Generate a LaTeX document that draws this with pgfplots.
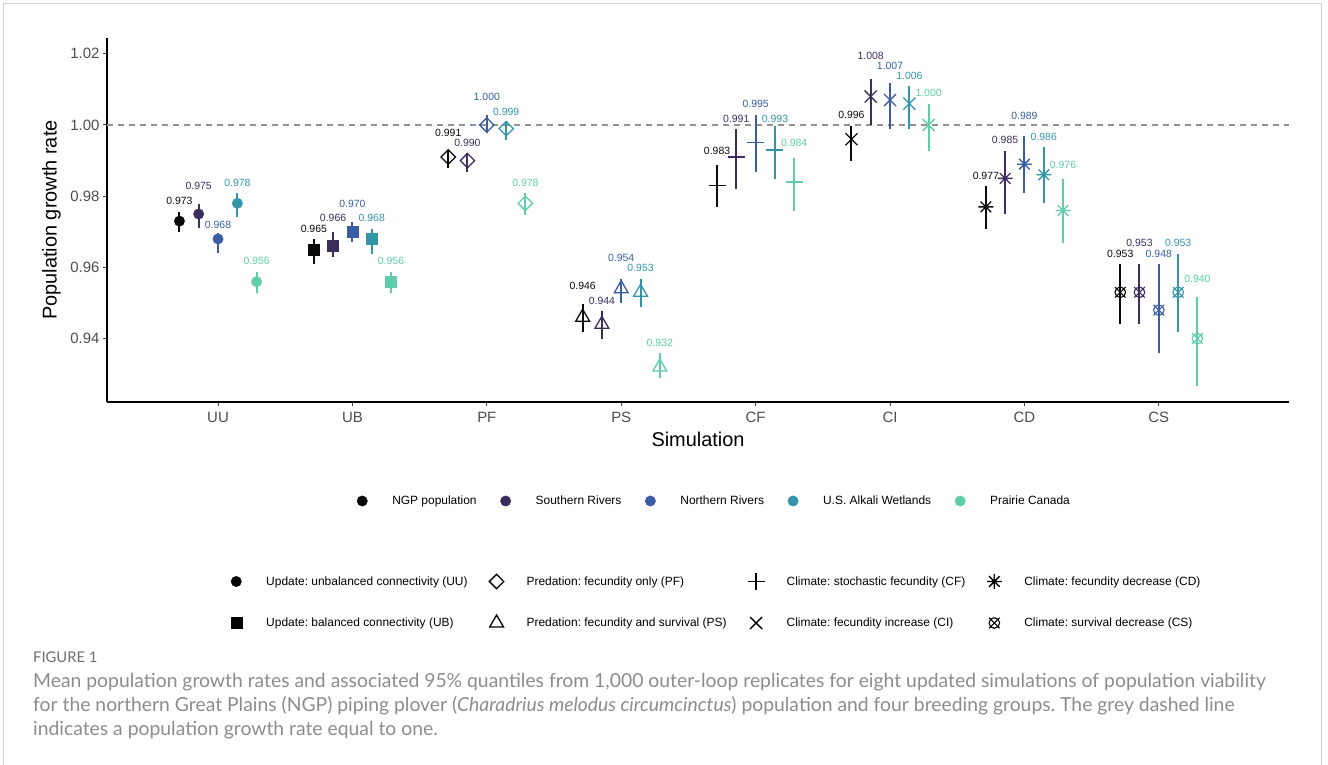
\documentclass[border=0pt]{standalone}
\usepackage{pgfplots}
\pgfplotsset{compat=1.18}
\usepackage{pgfplotstable}
\usepackage{fontspec}
\setmainfont{Liberation Sans}
\newfontfamily\capfont{Lato}
\frenchspacing

\definecolor{cNGP}{HTML}{0A0A0A}
\definecolor{cSR}{HTML}{3B2E5D}
\definecolor{cNR}{HTML}{3A5DA6}
\definecolor{cAW}{HTML}{3396A8}
\definecolor{cPC}{HTML}{5ECDAA}
\definecolor{tickgrey}{HTML}{4D4D4D}
\definecolor{capgrey}{HTML}{8C8C8C}
\definecolor{figgrey}{HTML}{6E6E6E}
\definecolor{framegrey}{HTML}{D0D0D0}

\pgfdeclareplotmark{ggdiamond}{%
  \pgfpathmoveto{\pgfqpoint{0pt}{\pgfplotmarksize}}%
  \pgfpathlineto{\pgfqpoint{\pgfplotmarksize}{0pt}}%
  \pgfpathlineto{\pgfqpoint{0pt}{-\pgfplotmarksize}}%
  \pgfpathlineto{\pgfqpoint{-\pgfplotmarksize}{0pt}}%
  \pgfpathclose\pgfusepathqstroke}
\pgfdeclareplotmark{ggast}{%
  \pgfpathmoveto{\pgfqpoint{-\pgfplotmarksize}{0pt}}\pgfpathlineto{\pgfqpoint{\pgfplotmarksize}{0pt}}%
  \pgfpathmoveto{\pgfqpoint{0pt}{-\pgfplotmarksize}}\pgfpathlineto{\pgfqpoint{0pt}{\pgfplotmarksize}}%
  \pgfpathmoveto{\pgfqpoint{-.707\pgfplotmarksize}{-.707\pgfplotmarksize}}\pgfpathlineto{\pgfqpoint{.707\pgfplotmarksize}{.707\pgfplotmarksize}}%
  \pgfpathmoveto{\pgfqpoint{-.707\pgfplotmarksize}{.707\pgfplotmarksize}}\pgfpathlineto{\pgfqpoint{.707\pgfplotmarksize}{-.707\pgfplotmarksize}}%
  \pgfusepathqstroke}
\pgfdeclareplotmark{ggcircx}{%
  \pgfpathcircle{\pgfpointorigin}{\pgfplotmarksize}%
  \pgfpathmoveto{\pgfqpoint{-\pgfplotmarksize}{-\pgfplotmarksize}}\pgfpathlineto{\pgfqpoint{\pgfplotmarksize}{\pgfplotmarksize}}%
  \pgfpathmoveto{\pgfqpoint{-\pgfplotmarksize}{\pgfplotmarksize}}\pgfpathlineto{\pgfqpoint{\pgfplotmarksize}{-\pgfplotmarksize}}%
  \pgfusepathqstroke}

\pgfplotsset{
  /pgf/number format/assume math mode=true,
  mUU/.style={mark=*, mark size=5.2bp},
  mUB/.style={mark=square*, mark size=5.5bp},
  mPF/.style={mark=ggdiamond, mark size=7.2bp, mark options={line width=1.3bp}},
  mPS/.style={mark=triangle, mark size=8bp, mark options={line width=1.3bp}},
  mCF/.style={mark=+, mark size=8.5bp, mark options={line width=1.3bp}},
  mCI/.style={mark=x, mark size=8.5bp, mark options={line width=1.3bp}},
  mCD/.style={mark=ggast, mark size=7.5bp, mark options={line width=1.3bp}},
  mCS/.style={mark=ggcircx, mark size=5.3bp, mark options={line width=1.1bp}},
  myleg/.style={legend image code/.code={\path[draw=none, fill=none] (-8bp,-6bp) rectangle (8bp,6bp); \draw[##1] plot coordinates {(0bp,0bp)};}},
}

% columns: simulation index, mean, lower, upper 95% quantile, label height
\pgfplotstableread{
x y lo hi ly
1 0.973 0.9700 0.9756 0.9787
2 0.965 0.9609 0.9679 0.9707
3 0.991 0.9878 0.9930 0.9978
4 0.946 0.9419 0.9497 0.9548
5 0.983 0.9769 0.9888 0.9928
6 0.996 0.9899 0.9997 1.0028
7 0.977 0.9709 0.9829 0.9858
8 0.953 0.9440 0.9609 0.9638
}\ngp
\pgfplotstableread{
x y lo hi ly
1 0.975 0.9710 0.9778 0.9829
2 0.966 0.9628 0.9699 0.9738
3 0.990 0.9869 0.9920 0.9949
4 0.944 0.9398 0.9478 0.9507
5 0.991 0.9819 0.9988 1.0017
6 1.008 1.0000 1.0130 1.0194
7 0.985 0.9749 0.9928 0.9958
8 0.953 0.9440 0.9609 0.9668
}\sr
\pgfplotstableread{
x y lo hi ly
1 0.968 0.9640 0.9698 0.9719
2 0.970 0.9670 0.9728 0.9778
3 1.000 0.9978 1.0028 1.0078
4 0.954 0.9501 0.9567 0.9628
5 0.995 0.9869 1.0028 1.0058
6 1.007 0.9989 1.0117 1.0166
7 0.989 0.9810 0.9969 1.0025
8 0.948 0.9359 0.9609 0.9638
}\nr
\pgfplotstableread{
x y lo hi ly
1 0.978 0.9741 0.9808 0.9836
2 0.968 0.9638 0.9708 0.9738
3 0.999 0.9958 1.0009 1.0037
4 0.953 0.9488 0.9567 0.9598
5 0.993 0.9848 0.9997 1.0017
6 1.006 0.9989 1.0110 1.0138
7 0.986 0.9780 0.9939 0.9967
8 0.953 0.9419 0.9638 0.9668
}\aw
\pgfplotstableread{
x y lo hi ly
1 0.956 0.9529 0.9588 0.9619
2 0.956 0.9529 0.9588 0.9619
3 0.978 0.9747 0.9808 0.9838
4 0.932 0.9290 0.9359 0.9387
5 0.984 0.9758 0.9908 0.9949
6 1.000 0.9928 1.0059 1.0089
7 0.976 0.9669 0.9847 0.9888
8 0.940 0.9268 0.9518 0.9567
}\pc

\newcommand{\grp}[3]{%
  \addplot[draw=none, mark=none, forget plot,
    error bars/.cd, y dir=both, y explicit, error mark=none,
    error bar style={line width=2bp, draw=#2}]
    table[x expr=\thisrow{x}+#3, y=y,
      y error plus expr=\thisrow{hi}-\thisrow{y},
      y error minus expr=\thisrow{y}-\thisrow{lo}] {#1};
  \addplot[only marks, forget plot, color=#2, mUU, skip coords between index={1}{8}] table[x expr=\thisrow{x}+#3, y=y] {#1};
  \addplot[only marks, forget plot, color=#2, mUB, skip coords between index={0}{1}, skip coords between index={2}{8}] table[x expr=\thisrow{x}+#3, y=y] {#1};
  \addplot[only marks, forget plot, color=#2, mPF, skip coords between index={0}{2}, skip coords between index={3}{8}] table[x expr=\thisrow{x}+#3, y=y] {#1};
  \addplot[only marks, forget plot, color=#2, mPS, skip coords between index={0}{3}, skip coords between index={4}{8}] table[x expr=\thisrow{x}+#3, y=y] {#1};
  \addplot[only marks, forget plot, color=#2, mCF, skip coords between index={0}{4}, skip coords between index={5}{8}] table[x expr=\thisrow{x}+#3, y=y] {#1};
  \addplot[only marks, forget plot, color=#2, mCI, skip coords between index={0}{5}, skip coords between index={6}{8}] table[x expr=\thisrow{x}+#3, y=y] {#1};
  \addplot[only marks, forget plot, color=#2, mCD, skip coords between index={0}{6}, skip coords between index={7}{8}] table[x expr=\thisrow{x}+#3, y=y] {#1};
  \addplot[only marks, forget plot, color=#2, mCS, skip coords between index={0}{7}] table[x expr=\thisrow{x}+#3, y=y] {#1};
  \addplot[draw=none, mark=none, forget plot, point meta=explicit,
    nodes near coords={\pgfmathprintnumber[fixed,fixed zerofill,precision=3]{\pgfplotspointmeta}},
    nodes near coords style={anchor=center, inner sep=0pt, text=#2, font=\fontsize{10.5}{12}\selectfont}]
    table[x expr=\thisrow{x}+#3, y=ly, meta=y] {#1};
}

\begin{document}
\begin{tikzpicture}[x=1bp, y=1bp]
\useasboundingbox (0,0) rectangle (1328,764);
\draw[framegrey, line width=1bp] (3.5,-10) rectangle (1321.5,760.5);

\begin{axis}[
  at={(107bp,362bp)}, anchor=south west,
  scale only axis, width=1182bp, height=364bp,
  xmin=0.174, xmax=8.969, ymin=0.92219, ymax=1.02444,
  axis x line*=bottom, axis y line*=left,
  axis line style={line width=1.6bp, black, -},
  xtick={1,...,8}, xticklabels={UU,UB,PF,PS,CF,CI,CD,CS},
  ytick={0.94,0.96,0.98,1.00,1.02}, yticklabels={0.94,0.96,0.98,1.00,1.02},
  tick align=outside, major tick length=4bp,
  tick style={line width=1bp, color=black!75},
  tick label style={font=\fontsize{15}{18}\selectfont, text=tickgrey},
  xticklabel style={yshift=-3bp},
  xlabel={Simulation}, ylabel={Population growth rate},
  label style={font=\fontsize{20}{24}\selectfont},
  xlabel style={at={(axis description cs:0.5,-0.1016)}, anchor=center},
  ylabel style={at={(axis description cs:-0.047,0.5)}, anchor=center},
  clip=false,
  myleg,
  legend columns=5,
  legend cell align=left,
  legend style={at={(axis description cs:0.209,-0.272)}, anchor=west,
    draw=none, fill=none, inner sep=0pt, font=\fontsize{12}{14}\selectfont,
    nodes={inner sep=0pt},
    /tikz/every odd column/.append style={column sep=22bp},
    /tikz/every even column/.append style={column sep=21bp}},
]
\addplot[forget plot, color=gray!85, line width=1.3bp, dash pattern=on 6bp off 5bp] coordinates {(0.174,1) (8.969,1)};

\grp{\ngp}{cNGP}{-0.287}
\grp{\sr}{cSR}{-0.144}
\grp{\nr}{cNR}{0}
\grp{\aw}{cAW}{0.144}
\grp{\pc}{cPC}{0.287}

\addlegendimage{only marks, mUU, color=cNGP}\addlegendentry{NGP population}
\addlegendimage{only marks, mUU, color=cSR}\addlegendentry{Southern Rivers}
\addlegendimage{only marks, mUU, color=cNR}\addlegendentry{Northern Rivers}
\addlegendimage{only marks, mUU, color=cAW}\addlegendentry{U.S. Alkali Wetlands}
\addlegendimage{only marks, mUU, color=cPC}\addlegendentry{Prairie Canada}
\end{axis}

\begin{axis}[
  at={(107bp,362bp)}, anchor=south west,
  scale only axis, width=1182bp, height=364bp,
  xmin=0, xmax=1, ymin=0, ymax=1, hide axis,
  myleg,
  legend columns=4,
  legend cell align=left,
  legend style={at={(axis description cs:0.1024,-0.5467)}, anchor=west,
    draw=none, fill=none, inner sep=0pt, font=\fontsize{12}{14}\selectfont,
    nodes={inner sep=0pt}, row sep=25bp,
    /tikz/every odd column/.append style={column sep=22bp},
    /tikz/every even column/.append style={column sep=21bp}},
]
\addlegendimage{only marks, mUU, color=black}\addlegendentry{Update: unbalanced connectivity (UU)}
\addlegendimage{only marks, mPF, color=black}\addlegendentry{Predation: fecundity only (PF)}
\addlegendimage{only marks, mCF, color=black}\addlegendentry{Climate: stochastic fecundity (CF)}
\addlegendimage{only marks, mCD, color=black}\addlegendentry{Climate: fecundity decrease (CD)}
\addlegendimage{only marks, mUB, color=black}\addlegendentry{Update: balanced connectivity (UB)}
\addlegendimage{only marks, mPS, color=black}\addlegendentry{Predation: fecundity and survival (PS)}
\addlegendimage{only marks, mCI, color=black}\addlegendentry{Climate: fecundity increase (CI)}
\addlegendimage{only marks, mCS, color=black}\addlegendentry{Climate: survival decrease (CS)}
\end{axis}

\node[anchor=west, inner sep=0pt, text=figgrey, font=\capfont\fontsize{14.8}{17}\selectfont] at (33,107) {FIGURE 1};
\node[anchor=west, inner sep=0pt, text=capgrey, font=\capfont\fontsize{19.4}{23}\selectfont] at (33,82) {Mean population growth rates and associated 95\% quantiles from 1,000 outer-loop replicates for eight updated simulations of population viability};
\node[anchor=west, inner sep=0pt, text=capgrey, font=\capfont\fontsize{19.4}{23}\selectfont] at (33,58) {for the northern Great Plains (NGP) piping plover (\textit{Charadrius melodus circumcinctus}) population and four breeding groups. The grey dashed line};
\node[anchor=west, inner sep=0pt, text=capgrey, font=\capfont\fontsize{19.4}{23}\selectfont] at (33,34) {indicates a population growth rate equal to one.};
\end{tikzpicture}
\end{document}
